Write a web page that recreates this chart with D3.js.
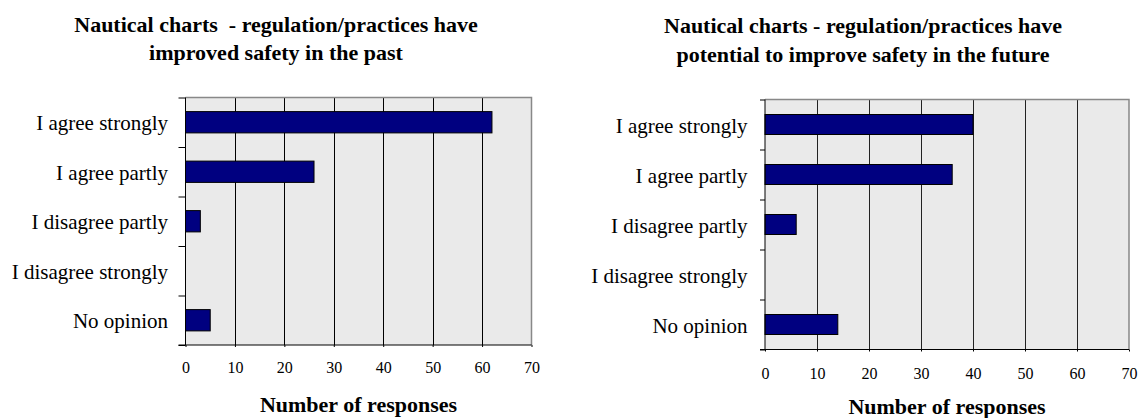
<!DOCTYPE html>
<html>
<head>
<meta charset="utf-8">
<script src="https://cdn.jsdelivr.net/npm/d3@7"></script>
<style>
  html, body { margin: 0; padding: 0; background: #fff; }
  svg { display: block; }
</style>
</head>
<body>
<svg id="chart" width="1145" height="418"></svg>
<script>
// ---- data ----
const categories = ["I agree strongly", "I agree partly", "I disagree partly", "I disagree strongly", "No opinion"];
const pastValues = [62, 26, 3, 0, 5];
const futureValues = [40, 36, 6, 0, 14];
const xTicks = [0, 10, 20, 30, 40, 50, 60, 70];
const xMax = 70;
const pastTitle = ["Nautical charts  - regulation/practices have", "improved safety in the past"];
const futureTitle = ["Nautical charts - regulation/practices have", "potential to improve safety in the future"];
const xAxisTitle = "Number of responses";

const FONT = '"Liberation Serif"';
const svg = d3.select("#chart");

function drawPanel(cfg) {
  const g = svg.append("g");
  const x = d3.scaleLinear().domain([0, xMax]).range([cfg.x0, cfg.x1]);
  const y = d3.scaleBand().domain(categories).range([cfg.y0, cfg.y1])
    .paddingInner(cfg.pad).paddingOuter(cfg.pad / 2);
  const yb = d3.scaleLinear().domain([0, categories.length]).range([cfg.y0, cfg.y1]);

  g.append("rect")
    .attr("x", cfg.x0).attr("y", cfg.y0)
    .attr("width", cfg.x1 - cfg.x0).attr("height", cfg.y1 - cfg.y0)
    .attr("fill", "#eaeaea");

  g.append("g").selectAll("line")
    .data(xTicks.filter(t => t > 0 && t < xMax))
    .join("line")
    .attr("x1", d => Math.round(x(d)) + 0.5).attr("x2", d => Math.round(x(d)) + 0.5)
    .attr("y1", cfg.y0).attr("y2", cfg.y1)
    .attr("stroke", cfg.gridColor).attr("stroke-width", 1);

  g.append("path")
    .attr("d", `M${cfg.x0},${cfg.y0}H${cfg.x1}V${cfg.y1}`)
    .attr("fill", "none").attr("stroke", "#888").attr("stroke-width", 1.5);

  const vals = cfg.values;
  g.append("g").selectAll("rect")
    .data(categories.map((c, i) => ({ c, v: vals[i] })).filter(d => d.v > 0))
    .join("rect")
    .attr("x", x(0)).attr("y", d => y(d.c))
    .attr("width", d => x(d.v) - x(0)).attr("height", y.bandwidth())
    .attr("fill", "#000080").attr("stroke", "#000").attr("stroke-width", 1);

  const yAxis = d3.axisLeft(yb).tickValues(d3.range(0, categories.length + 1))
    .tickSize(cfg.yTick).tickFormat("");
  const ya = g.append("g").attr("transform", `translate(${cfg.x0},0)`).call(yAxis);
  ya.select(".domain").attr("stroke", "#000").attr("d", `M0,${cfg.y0}V${cfg.y1}`);
  ya.selectAll(".tick line").attr("stroke", "#000");

  g.append("g").selectAll("text")
    .data(categories)
    .join("text")
    .attr("x", cfg.labelX)
    .attr("y", d => y(d) + y.bandwidth() / 2 + 8)
    .attr("text-anchor", "end")
    .attr("font-size", 21)
    .style("font-family", FONT)
    .attr("fill", "#000")
    .text(d => d);

  const xAxis = d3.axisBottom(x).tickValues(xTicks).tickSize(2).tickPadding(cfg.tickPad)
    .tickFormat(d3.format("d"));
  const xa = g.append("g").attr("transform", `translate(0,${cfg.y1})`).call(xAxis);
  xa.select(".domain").attr("stroke", "#000").attr("d", `M${cfg.x0 - cfg.yTick},0H${cfg.x1}`);
  xa.selectAll(".tick line").attr("stroke", "#000");
  xa.selectAll(".tick text")
    .style("font-family", FONT)
    .attr("font-size", 16).attr("fill", "#000");

  cfg.title.forEach((t, i) => {
    g.append("text")
      .attr("x", cfg.titleX).attr("y", cfg.titleY[i])
      .attr("text-anchor", "middle")
      .attr("font-size", 22).attr("font-weight", "bold")
      .style("font-family", FONT).style("white-space", "pre")
      .attr("fill", "#000")
      .text(t);
  });

  g.append("text")
    .attr("x", (cfg.x0 + cfg.x1) / 2).attr("y", cfg.xTitleY)
    .attr("text-anchor", "middle")
    .attr("font-size", 22).attr("font-weight", "bold")
    .style("font-family", FONT).attr("fill", "#000")
    .text(xAxisTitle);
}

drawPanel({
  values: pastValues, title: pastTitle,
  x0: 185.5, x1: 531.5, y0: 97.5, y1: 345,
  pad: 0.57, yTick: 7, labelX: 168, tickPad: 15, gridColor: "#000",
  titleX: 276, titleY: [32, 60], xTitleY: 412
});

drawPanel({
  values: futureValues, title: futureTitle,
  x0: 765, x1: 1129, y0: 99.5, y1: 349.5,
  pad: 0.6, yTick: 5, labelX: 747.5, tickPad: 16, gridColor: "#222",
  titleX: 863, titleY: [33, 62], xTitleY: 413.5
});
</script>
</body>
</html>
